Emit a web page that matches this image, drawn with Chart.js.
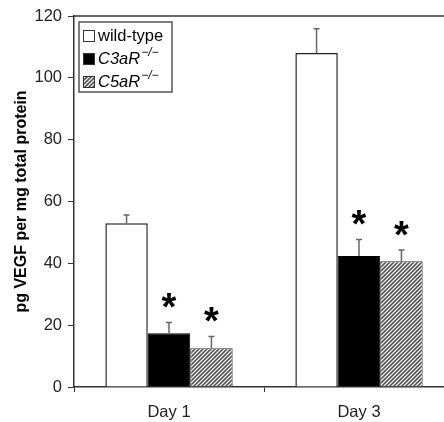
<!DOCTYPE html>
<html>
<head>
<meta charset="utf-8">
<script src="https://cdn.jsdelivr.net/npm/chart.js@4"></script>
<style>
  html, body { margin: 0; padding: 0; background: #fff; overflow: hidden; }
  #wrap { position: relative; width: 470px; height: 422px; }
</style>
</head>
<body>
<div id="wrap"><canvas id="vegfChart" width="470" height="422"></canvas></div>
<script>
// data
const days = ["Day 1", "Day 3"];
const wildType = [53, 108];
const c3ar = [17.4, 42.4];
const c5ar = [12.5, 40.7];
const wildTypeErr = [2.6, 7.9];
const c3arErr = [3.5, 5.3];
const c5arErr = [3.8, 3.6];
const c3arSig = [true, true];
const c5arSig = [true, true];
const yTicks = [0, 20, 40, 60, 80, 100, 120];

const FONT = "Arial, 'Liberation Sans', sans-serif";

// "////" hatch, soft edges like the scanned figure
function hatchPattern() {
  const c = document.createElement("canvas");
  c.width = 8; c.height = 8;
  const g = c.getContext("2d");
  g.fillStyle = "#fff";
  g.fillRect(0, 0, 8, 8);
  g.strokeStyle = "#555";
  g.lineWidth = 1.6;
  g.beginPath();
  for (let k = -8; k <= 16; k += 4) {
    g.moveTo(k - 1, 9);
    g.lineTo(k + 9, -1);
  }
  g.stroke();
  return g.createPattern(c, "repeat");
}
const hatch = hatchPattern();

// error bars + significance stars
const extrasPlugin = {
  id: "extras",
  afterDatasetsDraw(chart) {
    const ctx = chart.ctx;
    const y = chart.scales.y;
    const errs = [wildTypeErr, c3arErr, c5arErr];
    const sigs = [null, c3arSig, c5arSig];
    chart.data.datasets.forEach((ds, di) => {
      const meta = chart.getDatasetMeta(di);
      meta.data.forEach((bar, i) => {
        const top = y.getPixelForValue(ds.data[i] + errs[di][i]);
        ctx.save();
        ctx.strokeStyle = "#666";
        ctx.lineWidth = 1.5;
        ctx.beginPath();
        ctx.moveTo(bar.x, bar.y);
        ctx.lineTo(bar.x, top);
        ctx.moveTo(bar.x - 3, top);
        ctx.lineTo(bar.x + 3, top);
        ctx.stroke();
        if (sigs[di] && sigs[di][i]) {
          ctx.fillStyle = "#000";
          ctx.font = "bold 38px " + FONT;
          ctx.textAlign = "center";
          ctx.textBaseline = "middle";
          ctx.fillText("*", bar.x, top - 13);
        }
        ctx.restore();
      });
    });
  }
};

// frame top line and legend box
const legendPlugin = {
  id: "customLegend",
  afterDraw(chart) {
    const ctx = chart.ctx;
    const a = chart.chartArea;
    ctx.save();
    ctx.strokeStyle = "#333";
    ctx.lineWidth = 1.5;
    ctx.beginPath();
    ctx.moveTo(a.left, a.top);
    ctx.lineTo(a.right, a.top);
    ctx.stroke();

    const bx = a.left + 5, by = a.top + 6, bw = 93, bh = 70;
    ctx.fillStyle = "#fff";
    ctx.fillRect(bx, by, bw, bh);
    ctx.strokeStyle = "#555";
    ctx.lineWidth = 1.5;
    ctx.strokeRect(bx, by, bw, bh);

    const items = chart.data.datasets;
    items.forEach((ds, i) => {
      const cy = by + 13 + i * 23;
      ctx.fillStyle = ds.backgroundColor;
      ctx.fillRect(bx + 4, cy - 5, 11, 11);
      ctx.strokeStyle = "#333";
      ctx.lineWidth = 1;
      ctx.strokeRect(bx + 4.5, cy - 4.5, 11, 11);
      ctx.fillStyle = "#000";
      ctx.textBaseline = "middle";
      ctx.textAlign = "left";
      if (i === 0) {
        ctx.font = "16.5px " + FONT;
        ctx.fillText(ds.label, bx + 19, cy + 1);
      } else {
        ctx.font = "italic 16.5px " + FONT;
        ctx.fillText(ds.label, bx + 19, cy + 1);
        const w = ctx.measureText(ds.label).width;
        ctx.font = "italic 12px " + FONT;
        ctx.fillText("\u2212/\u2212", bx + 19 + w + 1, cy - 5);
      }
    });
    ctx.restore();
  }
};

new Chart(document.getElementById("vegfChart"), {
  type: "bar",
  data: {
    labels: days,
    datasets: [
      { label: "wild-type", data: wildType, backgroundColor: "#fff", borderColor: "#222", borderWidth: 1.5 },
      { label: "C3aR", data: c3ar, backgroundColor: "#000", borderColor: "#000", borderWidth: 1 },
      { label: "C5aR", data: c5ar, backgroundColor: hatch, borderColor: "#333", borderWidth: 1 }
    ]
  },
  options: {
    responsive: false,
    animation: false,
    layout: { padding: { top: 16, right: 16, left: 0, bottom: 0 } },
    datasets: { bar: { categoryPercentage: 0.67, barPercentage: 1.0 } },
    plugins: { legend: { display: false }, tooltip: { enabled: false } },
    scales: {
      x: {
        afterFit(s) { s.height = 35; },
        grid: { drawOnChartArea: false, tickLength: 5, color: "#333", offset: true },
        border: { color: "#333", width: 1.5 },
        ticks: { color: "#222", font: { family: FONT, size: 16.5 }, padding: 11 }
      },
      y: {
        min: 0, max: 120,
        afterFit(s) { s.width = 74; },
        afterBuildTicks(s) { s.ticks = yTicks.map(v => ({ value: v })); },
        grid: { drawOnChartArea: false, tickLength: 6, color: "#333" },
        border: { color: "#333", width: 1.5 },
        ticks: { color: "#222", font: { family: FONT, size: 16.5 }, padding: 6 },
        title: {
          display: true,
          text: "pg VEGF per mg total protein",
          color: "#000",
          font: { family: FONT, size: 16, weight: "bold" },
          padding: { top: 12, bottom: 4 }
        }
      }
    }
  },
  plugins: [extrasPlugin, legendPlugin]
});
</script>
</body>
</html>
